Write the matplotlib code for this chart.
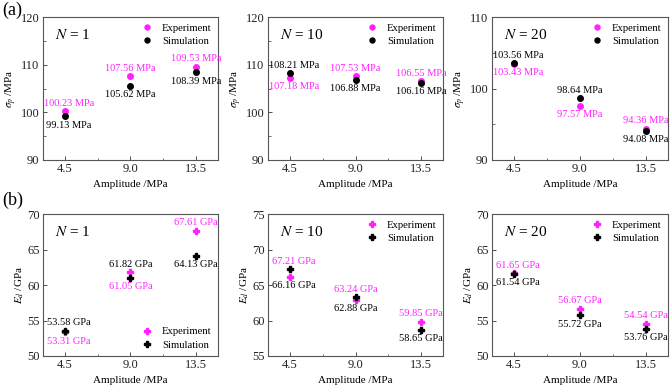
import matplotlib
matplotlib.use("Agg")
import matplotlib.pyplot as plt
from matplotlib.ticker import MultipleLocator

plt.rcParams['font.family'] = ['Liberation Serif', 'DejaVu Serif']
plt.rcParams['mathtext.fontset'] = 'stix'

amplitude = [4.5, 9.0, 13.5]
cycles = [1, 10, 20]
MAG = '#ff22ff'
BLK = '#000000'

# (a) peak stress, marker positions
sig_exp = {1: [100.23, 107.56, 109.53], 10: [107.18, 107.53, 106.55], 20: [103.43, 97.57, 94.36]}
sig_sim = {1: [99.13, 105.62, 108.39], 10: [108.21, 106.88, 106.16], 20: [103.56, 98.64, 94.08]}
# (b) dynamic modulus, marker positions
ed_exp = {1: [53.31, 61.82, 67.61], 10: [66.16, 62.88, 59.85], 20: [61.65, 56.67, 54.54]}
ed_sim = {1: [53.58, 61.05, 64.13], 10: [67.21, 63.24, 58.65], 20: [61.54, 55.72, 53.76]}

# annotation texts (upper / lower) and their colours
sig_up = {1: [100.23, 107.56, 109.53], 10: [108.21, 107.53, 106.55], 20: [103.56, 98.64, 94.36]}
sig_up_c = {1: ['m', 'm', 'm'], 10: ['k', 'm', 'm'], 20: ['k', 'k', 'm']}
sig_lo = {1: [99.13, 105.62, 108.39], 10: [107.18, 106.88, 106.16], 20: [103.43, 97.57, 94.08]}
sig_lo_c = {1: ['k', 'k', 'k'], 10: ['m', 'k', 'k'], 20: ['m', 'm', 'k']}

ed_up = {1: [53.58, 61.82, 67.61], 10: [67.21, 63.24, 59.85], 20: [61.65, 56.67, 54.54]}
ed_up_c = {1: ['k', 'k', 'm'], 10: ['m', 'm', 'm'], 20: ['m', 'm', 'm']}
ed_lo = {1: [53.31, 61.05, 64.13], 10: [66.16, 62.88, 58.65], 20: [61.54, 55.72, 53.76]}
ed_lo_c = {1: ['m', 'm', 'k'], 10: ['k', 'k', 'k'], 20: ['k', 'k', 'k']}

sig_ylim = {1: (90, 120), 10: (90, 120), 20: (90, 110)}
ed_ylim = {1: (50, 70), 10: (55, 75), 20: (50, 70)}

cmap = {'m': MAG, 'k': BLK}
label_dx = [3, 0, 0]  # small horizontal nudge of annotation text (points)

W, H = 670, 386
fig = plt.figure(figsize=(W / 100, H / 100), dpi=100)

lefts = [43, 268, 492]
widths = [175, 175, 176]
rows = {'a': (17, 160), 'b': (214, 356)}


def make_ax(row, i):
    top, bot = rows[row]
    return fig.add_axes([lefts[i] / W, 1 - bot / H, widths[i] / W, (bot - top) / H])


def style(ax, ylim, ymaj, yminor):
    ax.set_xlim(3, 15)
    ax.set_ylim(*ylim)
    ax.set_xticks(amplitude)
    ax.set_xticklabels(['4.5', '9.0', '13.5'])
    ax.xaxis.set_minor_locator(MultipleLocator(2.25))
    ax.yaxis.set_major_locator(MultipleLocator(ymaj))
    ax.yaxis.set_minor_locator(MultipleLocator(yminor))
    ax.tick_params(which='both', direction='in', labelsize=9, colors='#333333',
                   labelcolor='#222222', pad=2.5)
    ax.tick_params(which='major', length=3, width=0.6)
    ax.tick_params(which='minor', length=1.8, width=0.5)
    for s in ax.spines.values():
        s.set_color('#555555')
        s.set_linewidth(0.8)
    ax.set_xlabel('Amplitude /MPa', fontsize=8, labelpad=3)


def annotate(ax, exp, sim, up, upc, lo, loc, unit):
    for j, x in enumerate(amplitude):
        hi = max(exp[j], sim[j])
        lw = min(exp[j], sim[j])
        ax.annotate(f'{up[j]:.2f} {unit}', (x, hi), xytext=(label_dx[j], 2.5), textcoords='offset points',
                    ha='center', va='bottom', fontsize=7.5, color=cmap[upc[j]], annotation_clip=False)
        ax.annotate(f'{lo[j]:.2f} {unit}', (x, lw), xytext=(label_dx[j], -3), textcoords='offset points',
                    ha='center', va='top', fontsize=7.5, color=cmap[loc[j]], annotation_clip=False)


leg_kw = dict(frameon=False, fontsize=7.7, handlelength=1.0, handletextpad=0.9,
              borderaxespad=0.2, labelspacing=0.35, markerscale=0.9)

for i, n in enumerate(cycles):
    ax = make_ax('a', i)
    ax.plot(amplitude, sig_exp[n], 'o', color=MAG, ms=4, ls='none', label='Experiment')
    ax.plot(amplitude, sig_sim[n], 'o', color=BLK, ms=4, ls='none', label='Simulation')
    style(ax, sig_ylim[n], 10, 5)
    ax.set_ylabel(r'$\sigma_p$ /MPa', fontsize=8, labelpad=1)
    annotate(ax, sig_exp[n], sig_sim[n], sig_up[n], sig_up_c[n], sig_lo[n], sig_lo_c[n], 'MPa')
    ax.text(0.07, 0.92, f'$N$ = {n}', transform=ax.transAxes, fontsize=11, va='top', ha='left')
    ax.legend(loc='upper right', **leg_kw)

for i, n in enumerate(cycles):
    ax = make_ax('b', i)
    ax.plot(amplitude, ed_exp[n], 'P', color=MAG, ms=4.5, ls='none', label='Experiment')
    ax.plot(amplitude, ed_sim[n], 'P', color=BLK, ms=4.5, ls='none', label='Simulation')
    style(ax, ed_ylim[n], 5, 5)
    ax.set_ylabel(r'$E_d$ /GPa', fontsize=8, labelpad=1)
    annotate(ax, ed_exp[n], ed_sim[n], ed_up[n], ed_up_c[n], ed_lo[n], ed_lo_c[n], 'GPa')
    ax.text(0.07, 0.92, f'$N$ = {n}', transform=ax.transAxes, fontsize=11, va='top', ha='left')
    loc = 'lower right' if n == 1 else 'upper right'
    ax.legend(loc=loc, **leg_kw)

fig.text(2 / W, 1 - 2 / H, '(a)', fontsize=13, va='top', ha='left')
fig.text(2 / W, 1 - 192 / H, '(b)', fontsize=13, va='top', ha='left')

fig.savefig('out.png', dpi=100)
